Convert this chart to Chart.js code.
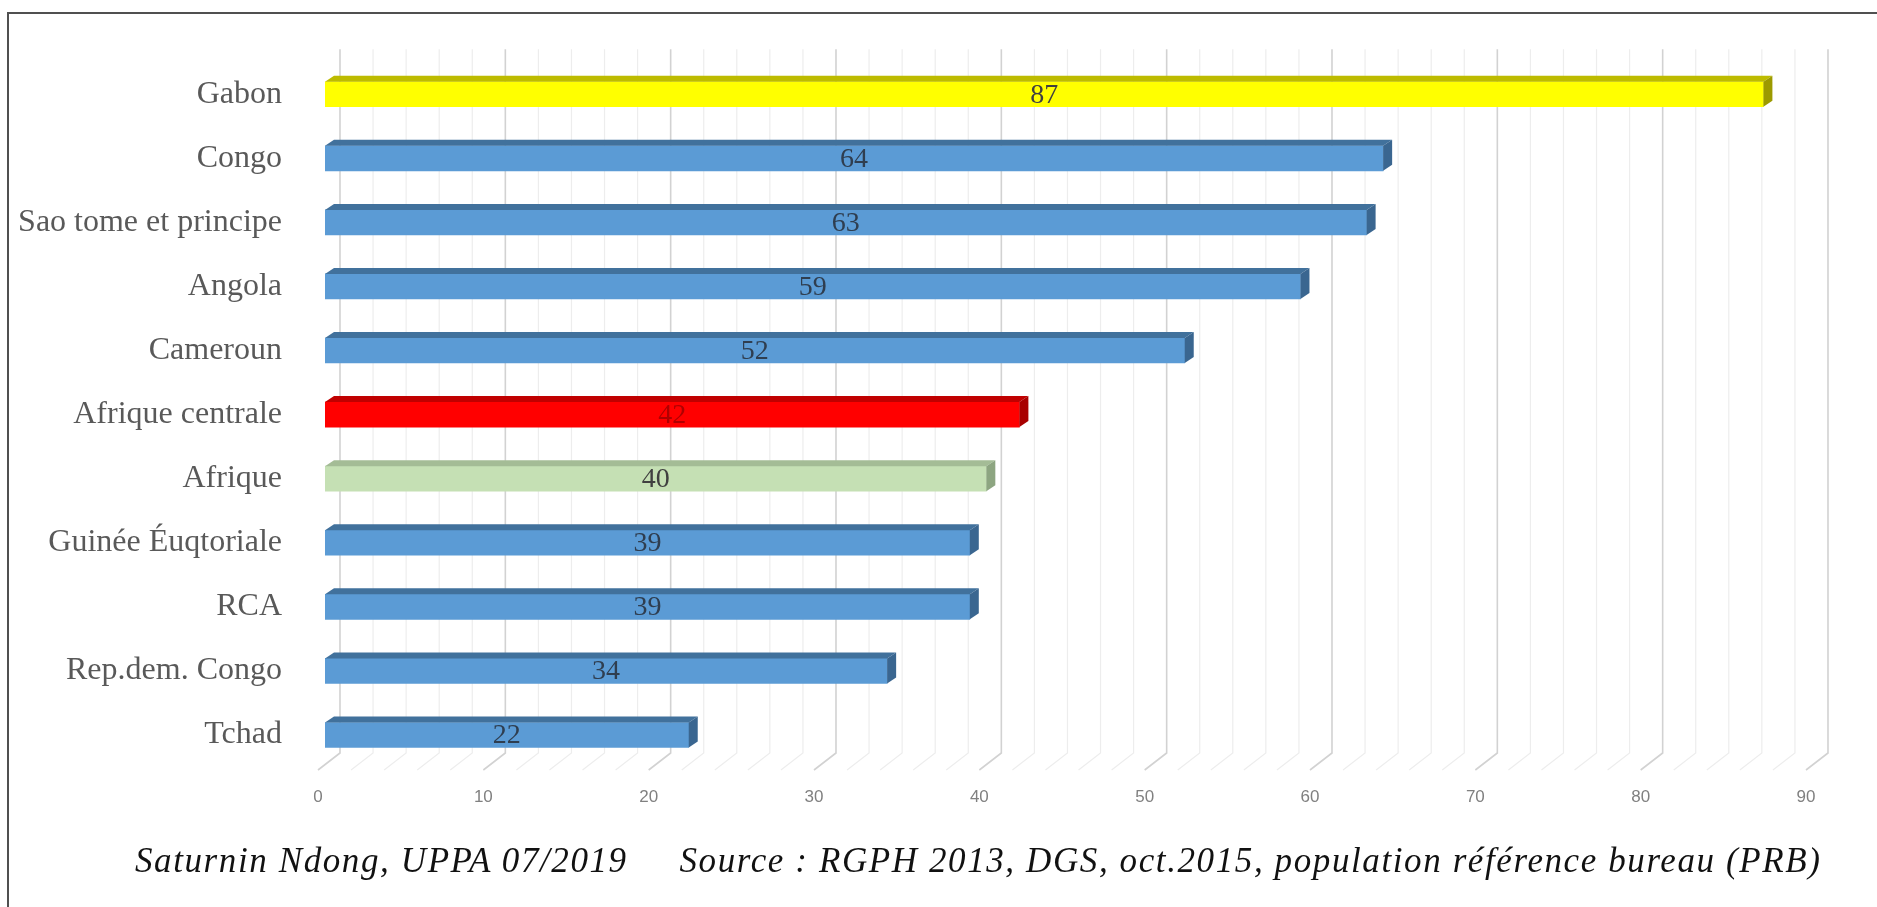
<!DOCTYPE html>
<html><head><meta charset="utf-8">
<script src="https://cdn.jsdelivr.net/npm/chart.js@4"></script>
<style>
html,body{margin:0;padding:0;background:#fff;}
#wrap{position:relative;width:1877px;height:907px;overflow:hidden;background:#fff;}
#frame{position:absolute;left:7px;top:12px;right:-5px;bottom:-5px;border-left:2px solid #505050;border-top:2px solid #505050;}
#c{position:absolute;left:0;top:0;}
#cap{position:absolute;left:135px;top:838px;font:italic 35px 'Liberation Serif';letter-spacing:1.6px;color:#111;white-space:pre;line-height:46px;}
</style></head><body>
<div id="wrap"><div id="frame"></div><canvas id="c" width="1877" height="907"></canvas><div id="cap">Saturnin Ndong, UPPA 07/2019     Source : RGPH 2013, DGS, oct.2015, population référence bureau (PRB)</div></div>
<script>
const categories = ['Gabon','Congo','Sao tome et principe','Angola','Cameroun','Afrique centrale','Afrique','Guinée Éuqtoriale','RCA','Rep.dem. Congo','Tchad'];
const values = [87,64,63,59,52,42,40,39,39,34,22];
const frontColors = ['#FFFF00','#5B9BD5','#5B9BD5','#5B9BD5','#5B9BD5','#FF0000','#C5E0B4','#5B9BD5','#5B9BD5','#5B9BD5','#5B9BD5'];
const topColors   = ['#BDBB00','#41719C','#41719C','#41719C','#41719C','#C00000','#A4BC96','#41719C','#41719C','#41719C','#41719C'];
const sideColors  = ['#9C9A00','#3A6690','#3A6690','#3A6690','#3A6690','#A80000','#8DA581','#3A6690','#3A6690','#3A6690','#3A6690'];
const labelColors = ['#404040','#2F3E50','#2F3E50','#2F3E50','#2F3E50','#B00000','#404040','#2F3E50','#2F3E50','#2F3E50','#2F3E50'];
const axisMin = 0, axisMax = 90, majorStep = 10, minorStep = 2;

const grid3d = {
  id:'grid3d',
  beforeDatasetsDraw(chart){
    const xs = chart.scales.x, ctx = chart.ctx, a = chart.chartArea;
    const wallTop = a.top - 13, wallBot = a.bottom - 14, floorY = a.bottom + 3;
    ctx.save();
    for (let v = axisMin; v <= axisMax; v += minorStep) {
      const p = xs.getPixelForValue(v);
      const major = v % majorStep === 0;
      ctx.strokeStyle = major ? '#D2D2D2' : '#EDEDED';
      ctx.lineWidth = major ? 1.6 : 1.2;
      ctx.beginPath();
      ctx.moveTo(p + 15, wallTop);
      ctx.lineTo(p + 15, wallBot);
      ctx.lineTo(p - 7, floorY);
      ctx.stroke();
    }
    ctx.restore();
  }
};

const bars3d = {
  id:'bars3d',
  afterDatasetsDraw(chart){
    const ctx = chart.ctx;
    const meta = chart.getDatasetMeta(0);
    const dx = 9, dy = -6;
    ctx.save();
    meta.data.forEach((el, i) => {
      const p = el.getProps(['x','y','base','height'], true);
      const top = p.y - p.height/2, bot = p.y + p.height/2;
      ctx.fillStyle = topColors[i];
      ctx.beginPath();
      ctx.moveTo(p.base, top); ctx.lineTo(p.x, top); ctx.lineTo(p.x+dx, top+dy); ctx.lineTo(p.base+dx, top+dy); ctx.closePath(); ctx.fill();
      ctx.fillStyle = sideColors[i];
      ctx.beginPath();
      ctx.moveTo(p.x, top); ctx.lineTo(p.x+dx, top+dy); ctx.lineTo(p.x+dx, bot+dy); ctx.lineTo(p.x, bot); ctx.closePath(); ctx.fill();
      ctx.fillStyle = labelColors[i];
      ctx.font = "28px 'Liberation Serif'";
      ctx.textAlign = 'center'; ctx.textBaseline = 'middle';
      ctx.fillText(String(values[i]), (p.base + p.x)/2, p.y + 1);
    });
    ctx.restore();
  }
};

new Chart(document.getElementById('c'), {
  type:'bar',
  data:{ labels: categories, datasets:[{ data: values, backgroundColor: frontColors, borderWidth:0, barThickness:25 }] },
  options:{
    indexAxis:'y', responsive:false, animation:false, devicePixelRatio:1,
    layout:{ padding:{ top:58, right:64, left:0, bottom:0 } },
    plugins:{ legend:{display:false}, tooltip:{enabled:false} },
    scales:{
      x:{ min:axisMin, max:axisMax,
          grid:{display:false, drawTicks:false}, border:{display:false},
          ticks:{ stepSize:majorStep, color:'#808080', font:{family:"'Liberation Sans'", size:17}, labelOffset:-7, padding:20, maxRotation:0 },
          afterFit(s){ s.height = 140; } },
      y:{ grid:{display:false, drawTicks:false}, border:{display:false},
          ticks:{ color:'#595959', font:{family:"'Liberation Serif'", size:32}, padding:43 },
          afterFit(s){ s.width = 325; } }
    }
  },
  plugins:[grid3d, bars3d]
});
</script>
</body></html>
